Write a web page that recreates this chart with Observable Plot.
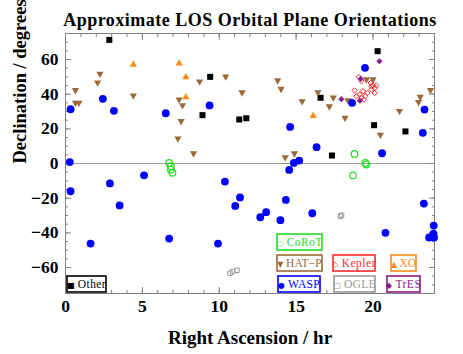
<!DOCTYPE html>
<html><head><meta charset="utf-8">
<script src="https://cdn.jsdelivr.net/npm/d3@7"></script>
<script src="https://cdn.jsdelivr.net/npm/@observablehq/plot@0.6"></script>
<style>body{margin:0;background:#fff} svg{font-family:"Liberation Serif","Times New Roman",serif}</style>
</head><body><div id="chart"></div>
<script>
// ---- data (Right Ascension hr, Declination deg) ----
const otherRA  = [2.85, 9.41, 8.91, 11.3, 11.76, 20.3, 16.59, 20.07, 22.11, 17.33];
const otherDec = [71.3, 50.0, 27.9, 25.4, 26.1, 64.8, 37.9, 22.1, 18.5, 4.6];

const hatRA  = [0.65, 0.65, 0.87, 2.24, 2.09, 4.41, 7.39, 7.61, 7.52, 7.31, 8.33, 8.72, 10.42, 11.48, 13.8, 14.02, 15.39, 16.42, 17.42, 17.16, 18.18, 18.37, 19.57, 20.0, 21.72, 20.48, 22.96, 23.07, 23.74, 14.29, 14.89];
const hatDec = [42.3, 35.0, 35.0, 51.7, 46.7, 39.2, 36.9, 33.6, 24.4, 14.4, 5.8, 47.3, 50.2, 41.0, 47.9, 43.0, 35.9, 41.1, 38.0, 32.9, 26.3, 36.5, 48.5, 48.5, 30.2, 16.5, 35.4, 38.4, 42.3, 3.6, 5.8];

const xoRA  = [4.41, 7.39, 7.83, 7.83, 16.11];
const xoDec = [57.1, 57.7, 49.8, 38.3, 27.5];

const waspRA  = [0.33, 2.43, 3.15, 6.52, 9.37, 0.28, 19.48, 18.64, 23.35, 23.24, 14.61, 16.33, 20.59, 14.85, 15.2, 14.55, 0.33, 2.89, 3.52, 5.11, 1.63, 6.74, 9.92, 10.37, 11.35, 11.04, 12.67, 14.33, 13.05, 13.98, 16.05, 20.81, 23.31, 23.95, 23.65, 23.93, 23.97];
const waspDec = [31.3, 37.3, 30.4, 29.0, 33.5, 0.8, 55.2, 35.0, 31.1, 17.7, 21.1, 9.4, 5.9, 0.35, 1.7, -3.7, -16.0, -11.5, -24.2, -6.8, -46.2, -43.3, -46.2, -10.4, -19.6, -24.5, -31.0, -21.0, -28.1, -32.7, -28.7, -40.0, -23.1, -35.8, -42.7, -40.4, -42.7];

const corotRA  = [6.74, 6.85, 6.85, 6.96, 18.8, 19.5, 19.57, 18.7];
const corotDec = [0.3, -1.6, -3.5, -5.4, 5.5, 0.3, -0.6, -6.9];

const keplerRA  = [19.07, 19.24, 19.85, 20.0, 20.11, 19.9, 18.8, 19.35, 19.63, 20.11, 19.13, 19.5, 19.24, 19.41, 18.92, 20.22, 19.9];
const keplerDec = [50.0, 47.5, 46.5, 45.0, 43.6, 42.7, 42.1, 41.7, 40.7, 40.7, 39.8, 38.8, 37.9, 36.9, 38.8, 45.0, 44.6];

const ogleRA  = [10.7, 10.87, 11.15, 17.87, 17.96];
const ogleDec = [-63.3, -62.3, -61.6, -30.4, -29.8];

const tresRA  = [20.42, 17.94, 19.15, 19.2];
const tresDec = [59.0, 37.1, 36.3, 48.8];

const xMajor = [0, 5, 10, 15, 20];
const yMajor = [-60, -40, -20, 0, 20, 40, 60];

const titleText = "Approximate LOS Orbital Plane Orientations";
const xLabel = "Right Ascension / hr";
const yLabel = "Declination / degrees";

const legendNames = ["CoRoT", "HAT\u2212P", "Kepler", "XO", "WASP", "OGLE", "TrES", "Other"];
const legendGlyphs = ["\u25CB", "\u25BC", "\u25C7", "\u25B2", "\u25CF", "\u25A1", "\u25C6", "\u25A0"];
const legendColors = ["#22dd22", "#9b6a3c", "#ff2a2a", "#ff8a1a", "#0000ff", "#999999", "#8b1a8b", "#000000"];

// ---- build tables ----
const pts = (ra, dec) => ra.map((r, i) => ({ra: r, dec: dec[i]}));
const C = Object.fromEntries(legendNames.map((n, i) => [n, legendColors[i]]));

const minorX = d3.range(0, 25, 1);
const minorY = d3.range(-75, 76, 5);
const frameStroke = "#808080";

const chart = Plot.plot({
  width: 463, height: 354,
  marginLeft: 65, marginRight: 29, marginTop: 33, marginBottom: 61,
  style: {fontFamily: "'Liberation Serif', 'Times New Roman', serif", background: "white", overflow: "visible"},
  x: {domain: [0, 24]},
  y: {domain: [-75, 75]},
  marks: [
    Plot.ruleY([0], {stroke: "#999", strokeWidth: 1.2}),
    // inward ticks on all sides
    Plot.axisX(minorX, {anchor: "bottom", tickSize: -3, fill: "none", stroke: frameStroke, label: null}),
    Plot.axisX(xMajor, {anchor: "bottom", tickSize: -6, fill: "none", stroke: frameStroke, label: null}),
    Plot.axisX(minorX, {anchor: "top", tickSize: -3, fill: "none", stroke: frameStroke, label: null}),
    Plot.axisX(xMajor, {anchor: "top", tickSize: -6, fill: "none", stroke: frameStroke, label: null}),
    Plot.axisY(minorY, {anchor: "left", tickSize: -3, fill: "none", stroke: frameStroke, label: null}),
    Plot.axisY(yMajor, {anchor: "left", tickSize: -6, fill: "none", stroke: frameStroke, label: null}),
    Plot.axisY(minorY, {anchor: "right", tickSize: -3, fill: "none", stroke: frameStroke, label: null}),
    Plot.axisY(yMajor, {anchor: "right", tickSize: -6, fill: "none", stroke: frameStroke, label: null}),
    // tick labels
    Plot.axisX(xMajor, {anchor: "bottom", tickSize: 0, tickPadding: 6, fontSize: 17.5, fontWeight: "bold", fill: "black", label: null}),
    Plot.axisY(yMajor, {anchor: "left", tickSize: 0, tickPadding: 7, fontSize: 17.5, fontWeight: "bold", fill: "black", label: null}),
    Plot.frame({stroke: frameStroke}),
    // data
    Plot.dot(pts(otherRA, otherDec), {x: "ra", y: "dec", symbol: "square", r: 3.4, fill: C["Other"]}),
    Plot.dot(pts(hatRA, hatDec), {x: "ra", y: "dec", symbol: "triangle", rotate: 180, r: 2.7, fill: C["HAT\u2212P"]}),
    Plot.dot(pts(xoRA, xoDec), {x: "ra", y: "dec", symbol: "triangle", r: 2.7, fill: C["XO"]}),
    Plot.dot(pts(waspRA, waspDec), {x: "ra", y: "dec", symbol: "circle", r: 3.9, fill: C["WASP"]}),
    Plot.dot(pts(corotRA, corotDec), {x: "ra", y: "dec", symbol: "circle", r: 3.3, stroke: C["CoRoT"], strokeWidth: 1.2, fill: "none"}),
    Plot.dot(pts(keplerRA, keplerDec), {x: "ra", y: "dec", symbol: "diamond2", r: 2.4, stroke: C["Kepler"], strokeWidth: 1, fill: "none"}),
    Plot.dot(pts(ogleRA, ogleDec), {x: "ra", y: "dec", symbol: "square", r: 2.5, stroke: C["OGLE"], strokeWidth: 1, fill: "none"}),
    Plot.dot(pts(tresRA, tresDec), {x: "ra", y: "dec", symbol: "diamond2", r: 2.8, fill: C["TrES"]}),
    // titles
    Plot.text([titleText], {text: d => d, frameAnchor: "top", dy: -20, fontSize: 18, fontWeight: "bold", fill: "black", className: "title"}),
    Plot.text([xLabel], {text: d => d, frameAnchor: "bottom", dy: 50, fontSize: 19, fontWeight: "bold", fill: "black"}),
    Plot.text([yLabel], {text: d => d, frameAnchor: "left", dx: -45, rotate: -90, fontSize: 18.5, fontWeight: "bold", fill: "black"})
  ]
});

const svg = d3.select(chart);
svg.selectAll("text").filter(function() { return this.textContent === titleText; })
  .attr("letter-spacing", 0.5);

// ---- legend boxes (pixel layout) ----
const boxes = [
  {i: 0, x: 277, y: 234, w: 45, h: 16, ls: 0.4},
  {i: 1, x: 277, y: 255, w: 45, h: 16, ls: 0.1},
  {i: 2, x: 333, y: 255, w: 42, h: 16, ls: 0.5},
  {i: 3, x: 391, y: 255, w: 25, h: 16, ls: 0},
  {i: 4, x: 278, y: 276, w: 42, h: 16, ls: 0.3},
  {i: 5, x: 334, y: 276, w: 41, h: 16, ls: 0.3},
  {i: 6, x: 387, y: 276, w: 33, h: 16, ls: 0.5},
  {i: 7, x: 67, y: 276, w: 39, h: 16, ls: 0.4}
];
const g = svg.append("g").attr("class", "legend");
for (const b of boxes) {
  const col = legendColors[b.i];
  g.append("rect").attr("x", b.x).attr("y", b.y).attr("width", b.w).attr("height", b.h)
    .attr("fill", "white").attr("stroke", col).attr("stroke-width", 1.6);
  const t = g.append("text").attr("x", b.x + b.w / 2).attr("y", b.y + b.h / 2 + 4.2)
    .attr("text-anchor", "middle").attr("fill", col).attr("font-size", 11.5)
    .attr("letter-spacing", b.ls);
  t.append("tspan").attr("font-size", 8).attr("font-family", "DejaVu Sans").attr("dy", -0.5).text(legendGlyphs[b.i] + " ");
  t.append("tspan").attr("dy", 0.5).text(legendNames[b.i]);
}
document.getElementById("chart").appendChild(chart);
</script>
</body></html>
